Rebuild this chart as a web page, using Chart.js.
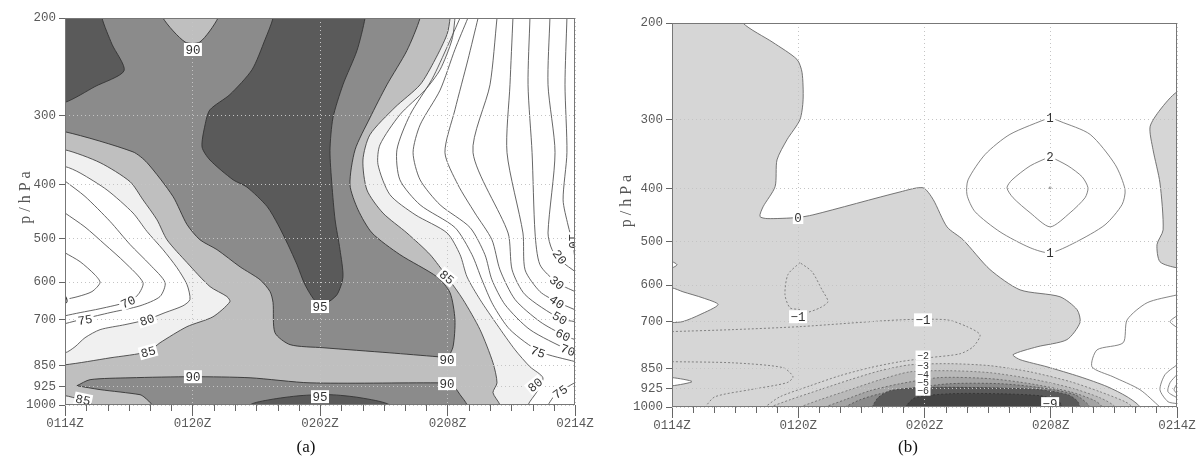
<!DOCTYPE html>
<html>
<head>
<meta charset="utf-8">
<script src="https://cdn.jsdelivr.net/npm/chart.js@4.4.1/dist/chart.umd.min.js"></script>
<style>
  body { margin: 0; background: #fff; }
  #wrap { position: relative; width: 1198px; height: 463px; overflow: hidden; }
  canvas { position: absolute; top: 0; }
  #chartA { left: 0; }
  #chartB { left: 600px; }
  .cap { position: absolute; top: 437px; font: 17px "Liberation Serif", serif; color: #111; transform: translateX(-50%); }
</style>
</head>
<body>
<div id="wrap">
  <canvas id="chartA" width="600" height="463"></canvas>
  <canvas id="chartB" width="598" height="463"></canvas>
  <div class="cap" style="left:306px">(a)</div>
  <div class="cap" style="left:908px">(b)</div>
</div>
<script>
// axes
const xTickHours = [0, 6, 12, 18, 24];
const xTickLabels = ["0114Z", "0120Z", "0202Z", "0208Z", "0214Z"];
const pTicks = [200, 300, 400, 500, 600, 700, 850, 925, 1000];

// (a) contours, [hour, hPa]
const rh80Left = [[0,371],[0.71,381],[1.98,409],[3.2,450],[3.86,486],[4.61,524],[5.27,565],[5.74,606],[5.88,645],[5.55,662],[4.71,681],[3.86,701],[2.82,716],[1.65,731],[0.94,756],[0.47,785],[0,805]];
const rh80Right = [[18.35,200],[18.21,219],[17.65,248],[16.94,270],[15.76,299],[14.82,339],[14.73,368],[15.29,417],[16.47,453],[17.98,489],[18.59,535],[18.92,587],[19.53,645],[20.33,716],[21.18,795],[21.88,853],[22.49,893],[22.21,946],[21.79,1000]];
const rh85Left = [[0,346],[1.65,365],[3.06,395],[3.67,426],[4.33,463],[4.8,503],[5.74,553],[6.82,611],[7.62,637],[7.76,651],[6.96,693],[5.74,722],[4.47,772],[3.91,801],[2.12,822],[0,846]];
const rh85Corner = [[0,962],[0.71,978],[1.32,1000]];
const rh85Right = [[18.12,200],[17.98,214],[17.41,238],[16.71,264],[15.53,290],[14.35,325],[14.02,361],[14.21,409],[14.96,450],[16.09,489],[17.18,535],[17.98,587],[18.73,645],[19.53,731],[20.14,839],[20.33,912],[20.14,950],[20.47,1000]];
const rh90Left = [[0,321],[3.2,349],[3.86,365],[5.08,420],[5.74,472],[6.35,503],[7.15,524],[8.24,563],[9.18,594],[9.65,624],[9.79,653],[9.88,740],[10.59,778],[12.14,788],[15.29,805],[17.51,818]];
const rh90Right = [[16.71,200],[16.09,229],[15.15,264],[14.35,303],[13.65,346],[13.41,400],[13.79,444],[14.45,489],[15.76,535],[17.51,587],[18.12,627],[18.35,701],[18.26,785],[17.98,821]];
const rh90Lens = [[0.56,923],[1.18,900],[3.06,893],[6.02,889],[8.71,893],[11.53,912],[17.51,912],[17.98,915],[18.35,931],[18.59,958],[18.92,1000]];
const rh90LensBase = [[4.09,1000],[3.76,970],[3.53,958],[1.65,938],[0.56,923]];
const rh90Notch = [[4.61,200],[5.65,221],[6.35,221],[7.2,200]];
const rh95TopLeft = [[1.74,200],[2.21,223],[2.78,249],[1.41,266],[0,284]];
const rh95Centre = [[9.79,200],[9.41,219],[8.8,248],[7.76,275],[6.82,293],[6.59,312],[6.45,342],[6.82,361],[7.91,392],[8.56,404],[9.51,438],[10.02,472],[10.49,513],[10.92,558],[11.29,606],[11.81,651],[12.24,656],[12.8,632],[13.08,587],[12.94,524],[12.71,463],[12.56,400],[12.47,347],[12.61,303],[13.08,264],[13.74,229],[14.12,200]];
const rh95Bottom = [[8.71,1000],[9.65,978],[11.06,962],[12.47,958],[13.88,970],[15.29,1000]];
const rh75Left = [[0,394],[0.94,420],[2.12,466],[3.06,513],[4,558],[4.71,601],[4.47,637],[3.53,662],[2.12,681],[0.94,698],[0,713]];
const rh70Left = [[0,450],[0.94,477],[1.88,513],[2.82,553],[3.67,601],[3.44,632],[2.96,651],[1.65,670],[0.71,681],[0,690]];
const rh60Left = [[0,531],[0.71,551],[1.41,582],[1.65,601],[1.27,624],[0.61,637],[0,645]];
const rh75Right = [[18.59,200],[18.02,224],[17.27,258],[16.24,299],[15.62,346],[15.76,392],[16.71,435],[18.35,478],[19.15,535],[19.62,594],[20.14,659],[20.94,731],[22.35,801],[24,835]];
const rh70Right = [[18.96,200],[18.35,228],[17.65,270],[16.71,312],[16.38,350],[16.71,392],[17.65,435],[19.06,478],[19.76,535],[20.09,594],[20.71,659],[21.88,731],[23.67,795],[24,801]];
const rh60Right = [[19.44,200],[18.96,238],[18.35,293],[17.88,350],[18.49,400],[19.29,450],[20.09,503],[20.47,570],[21.18,645],[22.35,707],[23.44,747],[24,762]];
const rh50Right = [[20.33,200],[20,264],[19.2,350],[20.85,489],[21.04,570],[21.65,632],[23.29,698],[24,707]];
const rh40Right = [[21.08,200],[20.94,264],[20.8,350],[21.55,489],[21.65,570],[22.35,624],[23.15,651],[24,673]];
const rh30Right = [[21.88,200],[21.79,264],[21.98,350],[22.12,489],[22.35,558],[23.15,601],[24,624]];
const rh20Right = [[22.82,200],[22.73,264],[23.06,350],[22.73,489],[22.92,524],[23.39,551],[24,574]];
const rh10Right = [[23.62,200],[23.53,264],[23.62,350],[23.44,426],[23.67,473],[23.91,513],[24,547]];
const rh75Corner = [[22.73,1000],[22.96,970],[23.29,946],[23.91,915],[24,912]];
const rhLabels = [
  ["90",6.02,228,0],["95",12,664,0],["85",17.98,587,40],["90",17.98,828,0],["90",17.98,915,0],
  ["95",12,966,0],["90",6.02,889,0],["85",3.91,801,-15],["85",0.85,978,12],["80",3.86,701,-18],
  ["75",0.94,701,-8],["70",2.96,651,-25],["60",-0.2,648,-20],["10",23.91,506,90],["20",23.29,540,55],
  ["30",23.15,601,40],["40",23.15,651,35],["50",23.29,696,30],["60",23.44,747,25],["70",23.67,795,20],
  ["75",22.26,801,20],["80",22.12,919,-40],["75",23.29,946,-35]
];

// (b) contours, [hour, hPa]
const w0Contour = [[3.37,200],[4.8,217],[5.94,233],[6.18,246],[6.23,276],[6.08,300],[5.47,326],[4.99,355],[4.9,397],[4.33,432],[4.18,450],[4.52,454],[5.94,452],[6.7,447],[10.84,406],[11.93,399],[12.41,419],[13.07,470],[13.83,496],[15.11,562],[16.54,612],[18.44,630],[19.25,665],[19.39,702],[18.77,754],[17.35,777],[16.21,803],[16.54,820],[17.82,845],[19.39,881],[20.68,918],[21.63,958],[22.24,1000]];
const w0RightPatch = [[24,267],[23.19,288],[22.72,309],[22.86,340],[23.19,391],[23.34,476],[23.05,506],[23.19,544],[24,558]];
const w0WhiteTiny = [[0,544],[0.24,551],[0,558]];
const w0WhiteWedge = [[0,607],[0.52,617],[1.47,633],[2.19,651],[1.33,679],[0.52,699],[0,702]];
const w0WhiteLow = [[0,884],[0.95,899],[0,915]];
const wNeg1Blob = [[6.08,546],[5.51,574],[5.37,625],[5.61,660],[6.08,665],[6.32,674],[7.03,660],[7.41,643],[7.13,612],[6.65,567],[6.08,546]];
const wNeg1Upper = [[0,729],[2.9,723],[6.08,714],[10.84,694],[13.07,694],[14.02,714],[14.64,739],[14.31,777],[13.69,800],[12.26,813],[10.84,827],[9.41,848],[7.98,877],[6.56,915],[5.13,958],[4.42,1000]];
const wNeg1Lower = [[0,827],[2.9,831],[5.28,848],[5.75,881],[5.47,903],[3.71,930],[2.04,958],[1.57,1000]];
const wNeg2 = [[4.66,1000],[5.61,970],[7.03,930],[8.46,892],[9.89,859],[11.31,838],[13.21,834],[15.11,841],[17.02,863],[18.92,899],[20.34,938],[21.53,978],[21.86,1000]];
const wNeg3 = [[6.08,1000],[7.03,970],[8.46,930],[9.89,892],[11.31,863],[13.21,859],[15.11,866],[17.02,888],[18.92,922],[20.34,962],[21.06,1000]];
const wNeg4 = [[7.27,1000],[8.22,970],[9.41,934],[10.84,907],[12.74,884],[15.11,888],[17.02,907],[18.92,938],[20.1,974],[20.44,1000]];
const wNeg5 = [[8.22,1000],[8.94,970],[9.89,946],[11.31,926],[13.21,907],[15.59,907],[17.49,922],[19.15,950],[19.87,1000]];
const wNeg6 = [[9.51,1000],[9.79,962],[10.36,934],[11.79,922],[14.64,922],[17.49,930],[18.82,950],[19.25,974],[19.39,1000]];
const wNeg7 = [[11.07,1000],[11.55,962],[13.21,946],[15.59,946],[17.49,954],[18.35,974],[18.54,1000]];
const wPos1 = [[17.97,297],[16.06,319],[14.88,347],[14.07,386],[14.02,411],[14.4,441],[15.59,480],[17.02,513],[17.97,524],[19.15,502],[20.58,466],[21.39,428],[21.53,402],[21.06,362],[19.87,319],[18.44,302],[17.97,297]];
const wPos2 = [[17.97,350],[17.02,364],[16.16,386],[15.92,399],[16.21,416],[17.02,443],[17.97,470],[18.92,443],[19.63,416],[19.77,399],[19.49,381],[18.82,364],[17.97,350]];
const wPosCentre = [[17.97,399]];
const wPos1Low = [[24,625],[22.58,646],[21.63,694],[21.44,764],[20.2,787],[19.96,845],[20.96,881],[22.24,930],[23.19,1000]];
const wPosNotch = [[24,682],[23.67,699],[24,717]];
const wPosArc1 = [[24,838],[23.43,873],[23.19,930],[23.57,978],[24,986]];
const wPosArc2 = [[24,873],[23.67,903],[23.57,938],[24,962]];
const wPosArc3 = [[24,907],[23.86,930],[24,946]];
const wLabels = [
  ["0",5.99,452,0],["1",17.97,297,0],["2",17.97,350,0],["1",17.97,524,0],["\u22121",5.99,685,0],
  ["\u22121",11.93,694,0],["\u22122",11.93,806,0,10],["\u22123",11.93,841,0,10],["\u22124",11.93,873,0,10],
  ["\u22125",11.93,903,0,10],["\u22126",11.93,934,0,10],["\u22129",17.97,986,0]
];

const pts = arr => arr.map(([x, y]) => ({ x, y }));

function area(data, color, line, dash) {
    return {
        data: pts(data), showLine: true, fill: "shape",
        backgroundColor: color, borderColor: line || "rgba(0,0,0,0)", borderWidth: line ? 0.9 : 0,
        borderDash: dash || [], pointRadius: 0, tension: 0.25, capBezierPoints: false, clip: 0
    };
}
function contour(data, color, dash) {
    return {
        data: pts(data), showLine: true, fill: false, borderColor: color, borderWidth: 0.9,
        borderDash: dash || [], pointRadius: 0, tension: 0.25, capBezierPoints: false, clip: 0
    };
}

const LIGHT_LINE = "#555";

const datasetsA = [
    area([[-1,190],[25,190],[25,1050],[-1,1050]], "#f0f0f0"),
    area([[-1,371], ...rh80Left, [-1,805]], "#ffffff", LIGHT_LINE),
    area([[18.35,190], ...rh80Right, [21.79,1050],[25,1050],[25,190]], "#ffffff", LIGHT_LINE),
    area([[-1,190],[-1,346], ...rh85Left, [-1,846],[-1,962], ...rh85Corner, [1.32,1050],[20.47,1050], ...rh85Right.slice().reverse(), [18.12,190]], "#bfbfbf", "#444"),
    area([[-1,190],[16.71,190], ...rh90Right, ...rh90Left.slice().reverse(), [-1,321]], "#8b8b8b", "#333"),
    area([...rh90Lens, [18.92,1050],[4.09,1050], ...rh90LensBase], "#8b8b8b", "#333"),
    area([[4.61,190], ...rh90Notch, [7.2,190]], "#bfbfbf", "#333"),
    area([[-1,190],[1.74,190], ...rh95TopLeft, [-1,284]], "#5a5a5a", "#333"),
    area([[9.79,190], ...rh95Centre, [14.12,190]], "#5a5a5a", "#333"),
    area([[8.71,1050], ...rh95Bottom, [15.29,1050]], "#5a5a5a", "#333"),
    ...[rh75Left, rh70Left, rh60Left, rh75Right, rh70Right, rh60Right, rh50Right, rh40Right,
        rh30Right, rh20Right, rh10Right, rh75Corner].map(c => contour(c, LIGHT_LINE))
];

const DASH = [2, 2];
const datasetsB = [
    area([[-1,190],[3.37,190], ...w0Contour, [22.24,1050],[-1,1050]], "#d6d6d6", "#666"),
    area([[25,262], ...w0RightPatch, [25,560]], "#d6d6d6", "#666"),
    area([[-1,544], ...w0WhiteTiny, [-1,558]], "#ffffff", "#666"),
    area([[-1,607], ...w0WhiteWedge, [-1,702]], "#ffffff", "#666"),
    area([[-1,884], ...w0WhiteLow, [-1,915]], "#ffffff", "#666"),
    area([...wNeg2, [21.86,1050],[4.66,1050]], "#cacaca", "#777", DASH),
    area([...wNeg3, [21.06,1050],[6.08,1050]], "#b9b9b9", "#777", DASH),
    area([...wNeg4, [20.44,1050],[7.27,1050]], "#a4a4a4", "#666", DASH),
    area([...wNeg5, [19.87,1050],[8.22,1050]], "#8a8a8a", "#555", DASH),
    area([...wNeg6, [19.39,1050],[9.51,1050]], "#5a5a5a", "#444", DASH),
    area([...wNeg7, [18.54,1050],[11.07,1050]], "#444444", "#333", DASH),
    contour(wNeg1Blob, "#777", DASH),
    contour(wNeg1Upper, "#777", DASH),
    contour(wNeg1Lower, "#777", DASH),
    ...[wPos1, wPos2, wPos1Low, wPosNotch, wPosArc1, wPosArc2, wPosArc3].map(c => contour(c, "#777")),
    { data: pts(wPosCentre), showLine: false, pointRadius: 1.4, pointBackgroundColor: "#999", pointBorderWidth: 0 }
];

// later datasets on top
[datasetsA, datasetsB].forEach(list => list.forEach((d, i) => { d.order = -i; }));

const tickFont = { family: "Liberation Mono", size: 12.5 };

const decorPlugin = {
    id: "decor",
    afterDraw(chart, args, opts) {
        const { ctx, chartArea: a } = chart;
        const x = chart.scales.x, y = chart.scales.y;
        ctx.save();

        // minor hourly ticks
        ctx.strokeStyle = "#666";
        ctx.lineWidth = 1;
        for (let h = 0; h <= 24; h++) {
            if (h % 6 === 0) continue;
            const px = Math.round(x.getPixelForValue(h)) + 0.5;
            ctx.beginPath();
            ctx.moveTo(px, a.bottom);
            ctx.lineTo(px, a.bottom + 6);
            ctx.stroke();
        }

        // contour labels
        ctx.save();
        ctx.beginPath();
        ctx.rect(a.left, a.top, a.right - a.left, a.bottom - a.top);
        ctx.clip();
        ctx.textAlign = "center";
        ctx.textBaseline = "middle";
        for (const [text, h, p, angle, size] of opts.labels) {
            ctx.save();
            ctx.translate(x.getPixelForValue(h), y.getPixelForValue(p));
            ctx.rotate(angle * Math.PI / 180);
            ctx.font = (size || 12.5) + 'px "Liberation Mono"';
            const w = ctx.measureText(text).width + 3;
            const hh = size ? 10 : 13;
            ctx.fillStyle = "#fff";
            ctx.fillRect(-w / 2, -hh / 2, w, hh);
            ctx.fillStyle = "#333";
            ctx.fillText(text, 0, 1);
            ctx.restore();
        }
        ctx.restore();

        // frame
        ctx.strokeStyle = "#777";
        ctx.lineWidth = 1;
        ctx.strokeRect(Math.round(a.left) + 0.5, Math.round(a.top) + 0.5,
            Math.round(a.right - a.left) - 1, Math.round(a.bottom - a.top) - 1);

        // y title
        ctx.translate(opts.titleX, (a.top + a.bottom) / 2 - 16);
        ctx.rotate(-Math.PI / 2);
        ctx.font = '16px "Liberation Serif"';
        ctx.letterSpacing = "4px";
        ctx.textAlign = "center";
        ctx.textBaseline = "middle";
        ctx.fillStyle = "#555";
        ctx.fillText("p/hPa", 0, 0);
        ctx.restore();
    }
};

function buildChart(id, datasets, cfg) {
    return new Chart(document.getElementById(id), {
        type: "scatter",
        data: { datasets },
        options: {
            responsive: false,
            animation: false,
            devicePixelRatio: 1,
            events: [],
            layout: { padding: { left: 0, right: cfg.padRight, top: cfg.top, bottom: 0 } },
            plugins: {
                legend: { display: false },
                tooltip: { enabled: false },
                decor: { labels: cfg.labels, titleX: cfg.titleX }
            },
            scales: {
                x: {
                    type: "linear", min: 0, max: 24,
                    afterFit: s => { s.height = cfg.xHeight; },
                    afterBuildTicks: s => { s.ticks = xTickHours.map(v => ({ value: v })); },
                    ticks: {
                        callback: v => xTickLabels[xTickHours.indexOf(v)],
                        font: tickFont, color: "#5a5a5a", padding: 0, maxRotation: 0, autoSkip: false
                    },
                    grid: { color: "#c4c4c4", lineWidth: 1, tickLength: 11, tickColor: "#666", z: 1 },
                    border: { display: false, dash: [1, 3] }
                },
                y: {
                    type: "logarithmic", reverse: true, min: 200, max: 1000,
                    afterFit: s => { s.width = cfg.yWidth; },
                    afterBuildTicks: s => { s.ticks = pTicks.map(v => ({ value: v })); },
                    ticks: { callback: v => String(v), font: tickFont, color: "#5a5a5a", padding: 3, autoSkip: false },
                    grid: { color: "#c4c4c4", lineWidth: 1, tickLength: 6, tickColor: "#666", z: 1 },
                    border: { display: false, dash: [1, 3] }
                }
            }
        },
        plugins: [decorPlugin]
    });
}

buildChart("chartA", datasetsA, { padRight: 25, top: 18, xHeight: 58, yWidth: 65, labels: rhLabels, titleX: 26 });
buildChart("chartB", datasetsB, { padRight: 21, top: 23, xHeight: 56, yWidth: 72, labels: wLabels, titleX: 27 });
</script>
</body>
</html>
